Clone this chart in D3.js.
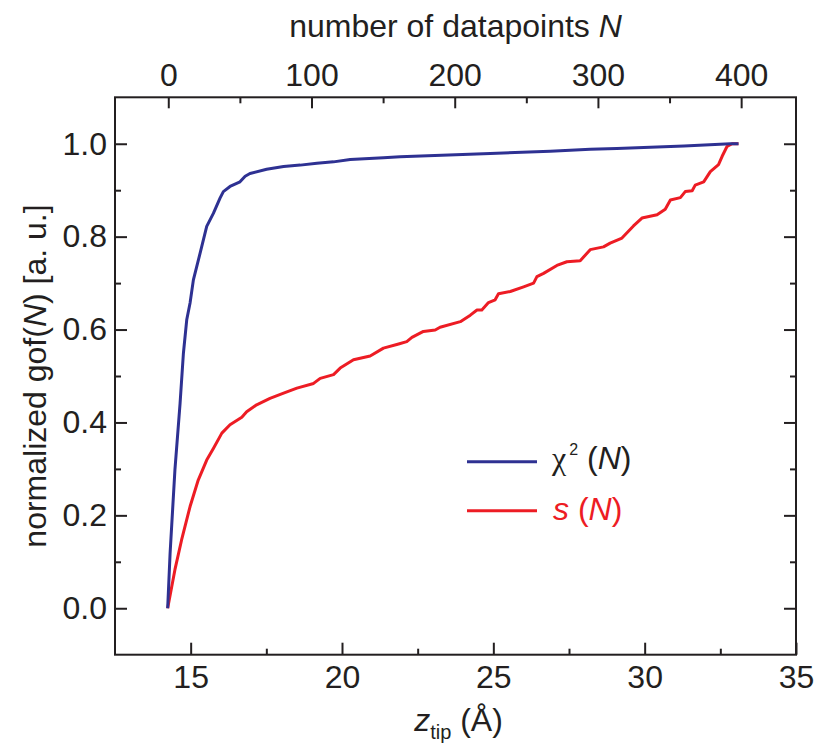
<!DOCTYPE html>
<html>
<head>
<meta charset="utf-8">
<script src="https://cdn.jsdelivr.net/npm/d3@7"></script>
<style>
  html, body { margin: 0; padding: 0; background: #ffffff; }
  svg { display: block; font-family: "Liberation Sans", Arial, Helvetica, sans-serif; }
</style>
</head>
<body>
<svg id="chart" width="817" height="747"></svg>
<script>
// Tip height z_tip (Å) and normalized chi² goodness of fit
const chiZ = [14.24, 14.32, 14.48, 14.65, 14.76, 14.87, 14.98, 15.09, 15.31, 15.53, 15.75, 15.97, 16.08,
  16.30, 16.63, 16.80, 16.96, 17.51, 18.07, 18.62, 19.17, 19.72, 20.27, 21.37, 21.92, 24.90,
  26.88, 28.20, 29.08, 31.30, 32.83, 33.10];
const chiVals = [0.000, 0.118, 0.298, 0.441, 0.549, 0.621, 0.657, 0.707, 0.764, 0.822, 0.850, 0.883, 0.897,
  0.908, 0.918, 0.930, 0.936, 0.945, 0.951, 0.954, 0.958, 0.961, 0.966, 0.970, 0.972, 0.979,
  0.984, 0.988, 0.990, 0.995, 1.000, 1.000];

// Tip height z_tip (Å) and normalized s goodness of fit
const sZ = [14.24, 14.48, 14.70, 14.98, 15.25, 15.53, 15.75, 16.03, 16.30, 16.69, 16.85, 17.18, 17.62,
  18.07, 18.51, 19.06, 19.28, 19.72, 19.94, 20.38, 20.93, 21.37, 21.87, 22.14, 22.31, 22.69,
  23.08, 23.24, 23.91, 24.24, 24.46, 24.62, 24.84, 25.06, 25.17, 25.56, 26.00, 26.33, 26.44,
  26.66, 27.10, 27.43, 27.87, 28.20, 28.64, 28.86, 29.25, 29.63, 29.91, 30.41, 30.68, 30.85,
  31.18, 31.34, 31.57, 31.67, 31.95, 32.17, 32.44, 32.56, 32.72, 32.89, 33.10];
const sVals = [0.000, 0.083, 0.147, 0.219, 0.276, 0.319, 0.344, 0.377, 0.395, 0.411, 0.423, 0.438, 0.452,
  0.463, 0.474, 0.484, 0.495, 0.503, 0.517, 0.535, 0.543, 0.560, 0.569, 0.574, 0.583, 0.596,
  0.599, 0.605, 0.617, 0.631, 0.642, 0.642, 0.658, 0.664, 0.677, 0.682, 0.692, 0.700, 0.714,
  0.721, 0.738, 0.746, 0.748, 0.772, 0.778, 0.786, 0.797, 0.823, 0.840, 0.847, 0.859, 0.879,
  0.884, 0.897, 0.899, 0.911, 0.918, 0.940, 0.955, 0.973, 0.994, 1.000, 1.000];

// Axis ticks
const zTicks = [15, 20, 25, 30, 35];
const zMinorTicks = [17.5, 22.5, 27.5, 32.5];
const nTicks = [0, 100, 200, 300, 400];
const nMinorTicks = [50, 150, 250, 350];
const gofTicks = [0.0, 0.2, 0.4, 0.6, 0.8, 1.0];
const gofMinorTicks = [0.1, 0.3, 0.5, 0.7, 0.9];

const ink = "#231f20";
const blue = "#2e3192";
const red = "#ed1c24";

const svg = d3.select("#chart");
const plotL = 115, plotR = 796, plotT = 97.3, plotB = 654.7;

const x = d3.scaleLinear().domain([12.5, 35]).range([plotL, plotR]);
const xN = d3.scaleLinear().domain([-37.2, 438.3]).range([plotL, plotR]);
const y = d3.scaleLinear().domain([-0.1, 1.1]).range([plotB, plotT]);

function styleAxis(g) {
  g.select(".domain").remove();
  g.selectAll(".tick line").attr("stroke", ink).attr("stroke-width", 2);
  g.selectAll(".tick text").attr("fill", ink).attr("font-size", 32)
    .attr("font-family", "Liberation Sans, Arial, sans-serif");
}

// bottom axis (ticks point inward)
svg.append("g").attr("transform", `translate(0,${plotB})`)
  .call(d3.axisBottom(x).tickValues(zTicks).tickSize(-12).tickPadding(10.5).tickFormat(d3.format("d")))
  .call(styleAxis);
svg.append("g").attr("transform", `translate(0,${plotB})`)
  .call(d3.axisBottom(x).tickValues(zMinorTicks).tickSize(-6).tickFormat(""))
  .call(styleAxis);

// top axis: number of datapoints
svg.append("g").attr("transform", `translate(0,${plotT})`)
  .call(d3.axisTop(xN).tickValues(nTicks).tickSize(-11).tickPadding(11).tickFormat(d3.format("d")))
  .call(styleAxis);
svg.append("g").attr("transform", `translate(0,${plotT})`)
  .call(d3.axisTop(xN).tickValues(nMinorTicks).tickSize(-6).tickFormat(""))
  .call(styleAxis);

// left axis
svg.append("g").attr("transform", `translate(${plotL},0)`)
  .call(d3.axisLeft(y).tickValues(gofTicks).tickSize(-12).tickPadding(8).tickFormat(d3.format(".1f")))
  .call(styleAxis);
svg.append("g").attr("transform", `translate(${plotL},0)`)
  .call(d3.axisLeft(y).tickValues(gofMinorTicks).tickSize(-6).tickFormat(""))
  .call(styleAxis);

// right axis (no labels)
svg.append("g").attr("transform", `translate(${plotR},0)`)
  .call(d3.axisRight(y).tickValues(gofTicks).tickSize(-12).tickFormat(""))
  .call(styleAxis);
svg.append("g").attr("transform", `translate(${plotR},0)`)
  .call(d3.axisRight(y).tickValues(gofMinorTicks).tickSize(-6).tickFormat(""))
  .call(styleAxis);

// plot frame
svg.append("rect")
  .attr("x", plotL).attr("y", plotT)
  .attr("width", plotR - plotL).attr("height", plotB - plotT)
  .attr("fill", "none").attr("stroke", ink).attr("stroke-width", 2);

// curves
const line = d3.line().x(d => x(d[0])).y(d => y(d[1]));
const chiData = chiZ.map((z, i) => [z, chiVals[i]]);
const sData = sZ.map((z, i) => [z, sVals[i]]);

svg.append("path").datum(sData)
  .attr("d", line).attr("fill", "none").attr("stroke", red)
  .attr("stroke-width", 3).attr("stroke-linejoin", "round");
svg.append("path").datum(chiData)
  .attr("d", line).attr("fill", "none").attr("stroke", blue)
  .attr("stroke-width", 3).attr("stroke-linejoin", "round");

// axis titles
const topTitle = svg.append("text")
  .attr("x", (plotL + plotR) / 2).attr("y", 37)
  .attr("text-anchor", "middle").attr("font-size", 32).attr("fill", ink);
topTitle.append("tspan").text("number of datapoints ");
topTitle.append("tspan").attr("font-style", "italic").text("N");

const bottomTitle = svg.append("text")
  .attr("x", (plotL + plotR) / 2 + 3).attr("y", 731)
  .attr("text-anchor", "middle").attr("font-size", 32).attr("fill", ink);
bottomTitle.append("tspan").attr("font-style", "italic").text("z");
bottomTitle.append("tspan").attr("font-size", 20).attr("dy", 8).text("tip");
bottomTitle.append("tspan").attr("dy", -8).text(" (Å)");

const leftTitle = svg.append("text")
  .attr("transform", `translate(46,${(plotT + plotB) / 2}) rotate(-90)`)
  .attr("text-anchor", "middle").attr("font-size", 32).attr("fill", ink);
leftTitle.append("tspan").text("normalized gof(");
leftTitle.append("tspan").attr("font-style", "italic").text("N");
leftTitle.append("tspan").text(") [a. u.]");

// legend
const legend = svg.append("g");
legend.append("line").attr("x1", 467).attr("x2", 537).attr("y1", 461.7).attr("y2", 461.7)
  .attr("stroke", blue).attr("stroke-width", 3);
legend.append("line").attr("x1", 467).attr("x2", 537).attr("y1", 510.7).attr("y2", 510.7)
  .attr("stroke", red).attr("stroke-width", 3);

const chiLabel = legend.append("text").attr("x", 552).attr("y", 469)
  .attr("font-size", 32).attr("fill", ink);
chiLabel.append("tspan").attr("font-family", "Liberation Serif, DejaVu Serif, serif").text("χ");
chiLabel.append("tspan").attr("font-size", 16).attr("dy", -14).attr("dx", 3).text("2");
chiLabel.append("tspan").attr("dy", 14).text(" (");
chiLabel.append("tspan").attr("font-style", "italic").text("N");
chiLabel.append("tspan").text(")");

const sLabel = legend.append("text").attr("x", 553).attr("y", 520)
  .attr("font-size", 32).attr("fill", red);
sLabel.append("tspan").attr("font-style", "italic").text("s");
sLabel.append("tspan").text(" (");
sLabel.append("tspan").attr("font-style", "italic").text("N");
sLabel.append("tspan").text(")");
</script>
</body>
</html>
